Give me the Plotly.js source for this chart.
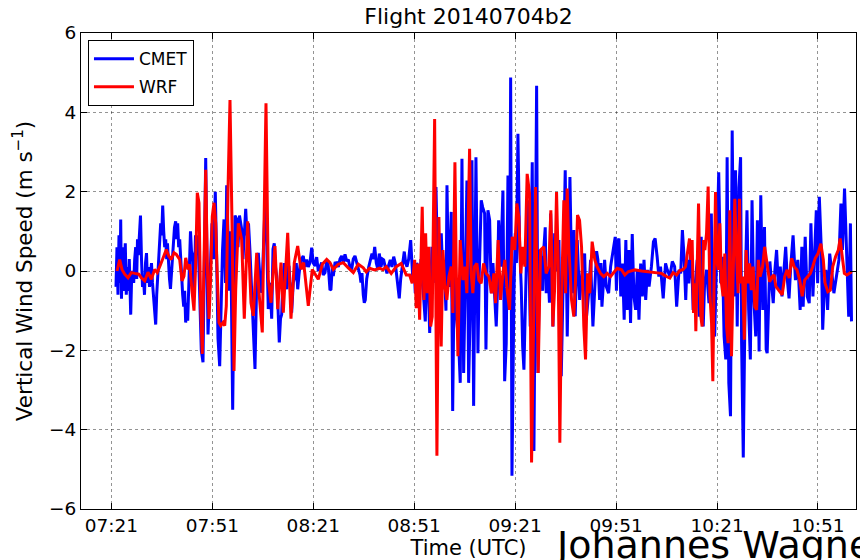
<!DOCTYPE html>
<html>
<head>
<meta charset="utf-8">
<script src="https://cdn.plot.ly/plotly-3.0.1.min.js"></script>
<style>
  html, body { margin: 0; padding: 0; background: #fff; }
  #chart { width: 860px; height: 560px; }
</style>
</head>
<body>
<div id="chart"></div>
<script>
// Flight 20140704b2: vertical wind speed measured by the CMET balloon vs. WRF model.
// Time is given in minutes after 07:00 UTC.

const cmetTime = [
  22.37,22.66,22.96,23.26,23.56,23.77,24.0,24.3,24.6,24.9,25.13,25.43,25.73,26.02,26.32,26.74,27.04,27.33,27.63,27.93,
  28.22,28.52,28.76,29.0,29.3,29.65,29.95,30.25,30.55,30.84,31.14,31.44,31.73,32.03,32.33,32.62,32.92,33.22,33.51,33.81,
  34.17,34.47,34.76,35.06,35.36,35.65,35.95,36.25,36.55,36.84,37.14,37.44,37.67,37.97,38.27,38.56,38.86,39.16,39.45,39.75,
  40.11,40.41,40.7,41.0,41.3,41.59,41.89,42.19,42.49,42.78,43.08,43.38,43.68,43.97,44.27,44.51,44.81,45.1,45.4,45.7,
  46.0,46.29,46.74,47.18,47.72,48.23,48.61,49.03,49.42,49.72,50.16,50.52,50.91,51.35,51.88,52.24,52.69,53.19,53.58,54.02,
  54.47,54.91,55.27,55.66,56.1,56.46,56.76,57.05,57.44,57.74,58.24,58.63,59.07,59.73,60.11,60.56,60.92,61.3,61.75,62.19,
  62.64,63.18,63.68,64.13,64.66,65.17,65.67,66.21,66.86,67.25,67.63,68.14,68.64,69.03,69.41,69.77,70.13,70.51,70.9,71.26,
  71.61,72.0,72.38,72.74,73.1,73.48,73.78,74.16,74.58,75.05,75.57,75.95,76.37,76.76,77.05,77.5,78.03,78.54,79.04,79.52,
  80.02,80.53,81.0,81.51,82.01,82.49,82.99,83.5,83.97,84.48,84.99,85.46,85.97,86.26,86.65,86.95,87.45,87.96,88.44,88.94,
  89.45,89.92,90.43,90.93,91.41,91.91,92.41,92.89,93.4,93.9,94.38,94.88,95.17,95.47,95.86,96.16,96.46,96.88,97.47,97.95,
  98.45,98.84,99.26,99.73,100.24,100.62,101.13,101.57,101.93,102.4,102.91,103.41,103.89,104.39,104.9,105.37,105.88,106.26,106.56,106.98,
  107.36,107.75,108.05,108.47,108.85,109.36,109.95,110.55,110.93,111.32,111.74,112.12,112.57,113.01,113.31,113.82,114.29,114.59,114.89,115.24,
  115.6,115.99,116.28,116.67,117.08,117.47,117.85,118.27,118.66,119.04,119.55,120.05,120.44,120.74,121.12,121.42,121.72,122.01,122.43,122.81,
  123.02,123.41,123.7,124.21,124.68,124.98,125.19,125.69,126.17,126.67,127.18,127.65,128.16,128.66,129.35,129.94,130.33,130.92,131.34,131.93,
  132.32,132.91,133.42,133.89,134.4,134.9,135.38,135.74,136.09,136.69,137.37,137.88,138.35,138.86,139.36,139.66,140.05,140.64,141.03,141.38,
  141.83,142.33,142.81,143.23,143.61,144.12,144.8,145.48,146.08,146.58,147.38,147.77,148.28,148.75,149.17,149.56,149.94,150.24,150.75,151.19,
  151.55,151.94,152.23,152.74,153.12,153.51,154.01,154.31,154.7,155.2,155.88,156.48,156.89,157.28,157.87,158.47,158.85,159.45,160.16,160.84,
  161.65,162.12,162.84,163.43,164.11,164.8,165.21,165.6,166.1,166.49,166.79,167.23,167.59,168.07,168.78,169.37,170.06,170.74,171.1,171.34,
  171.84,172.4,172.9,173.4,173.9,174.3,174.8,175.3,175.8,176.3,176.8,177.3,177.8,178.3,178.8,179.3,179.8,180.3,180.8,181.5,
  182.1,182.6,183.2,183.7,184.2,185.0,185.7,186.2,187.0,187.7,188.4,189.0,189.7,190.2,190.7,191.2,191.7,192.1,192.6,193.3,
  193.9,194.6,195.1,195.7,196.3,196.9,197.3,197.9,198.6,199.3,199.7,200.3,200.9,201.5,202.1,202.6,203.1,203.6,204.0,204.5,
  205.0,205.5,206.0,206.5,207.0,207.5,208.0,208.3,208.8,209.4,209.9,210.4,210.9,211.4,211.9,212.5,213.0,213.5,214.0,214.6,
  215.1,215.6,215.9,216.7,217.2,217.7,218.2,218.7,219.3,219.8,220.3,220.8,221.4,221.9,222.4,222.9,223.6,224.3,225.0,225.7,
  226.2,226.6,227.2,227.8,228.4,228.9,229.5,230.0,230.5,230.9,231.4,232.0,232.4,232.8,233.35,233.86,234.48,235.14,235.73,236.48,
  237.22,237.82,238.26,238.89,239.3,239.6,240.13,240.64,240.96
];
const cmetW = [
  -0.4,0.6,-0.6,0.9,-0.3,1.3,-0.7,0.6,-0.5,0.2,0.7,-0.6,0.1,-0.5,0.3,-1.1,-0.1,0.0,-0.3,0.3,
  0.6,-0.2,0.8,0.4,0.9,1.4,0.3,-0.4,-0.2,-0.6,0.2,0.45,-0.3,0.1,-0.4,0.0,0.2,-0.3,-0.6,-0.9,
  -1.35,-0.6,-0.2,0.2,0.7,1.2,0.9,1.65,1.0,0.6,0.8,0.3,0.7,0.1,-0.2,-0.45,-0.1,0.5,0.7,1.1,
  1.25,0.8,1.2,0.6,0.8,0.2,-0.3,-0.6,-0.9,-0.5,-1.3,-0.8,-1.25,-0.4,0.6,1.0,0.5,0.4,-0.6,-0.2,
  0.9,0.4,0.9,-0.3,-2.0,-2.3,0.5,2.85,0.2,-1.6,-0.5,0.4,1.2,0.3,2.0,0.5,-1.7,-2.4,-0.8,0.5,
  1.3,-0.3,2.16,0.5,-0.5,1.0,-1.5,-3.5,-0.5,1.4,1.3,0.6,1.4,1.05,0.3,1.0,1.57,0.9,1.2,0.5,
  -0.3,-1.3,-2.47,-0.5,0.46,-0.2,-0.55,0.6,2.13,0.4,-0.96,-0.3,-1.2,0.55,0.7,0.1,-0.13,-0.9,-1.8,-1.2,
  -1.1,-0.2,0.2,-0.1,-0.46,0.1,0.13,-0.4,-1.05,-0.3,-0.13,0.2,-0.46,-0.1,0.13,0.3,0.38,0.1,0.29,0.1,
  0.21,0.59,0.2,0.13,0.35,0.0,0.1,0.21,-0.1,-0.04,0.25,0.13,-0.48,-0.46,0.1,-0.13,0.2,0.21,0.1,0.3,
  0.38,0.2,0.42,0.25,0.29,0.1,0.04,0.3,0.38,0.2,0.04,-0.1,-0.29,-0.05,-0.6,-0.8,-0.73,-0.2,0.1,0.3,
  0.44,0.3,0.61,0.2,0.03,0.44,0.1,0.3,0.28,0.1,-0.06,0.15,0.28,0.1,0.36,0.2,-0.14,-0.5,-0.69,-0.2,
  0.11,0.3,0.49,0.2,0.11,0.3,0.78,-0.14,0.2,-0.56,0.2,0.11,-0.5,0.3,-0.14,-0.6,-1.27,-0.3,0.36,-0.5,
  -1.56,-0.2,0.61,-0.3,0.8,2.12,0.5,0.11,-0.8,0.95,-0.2,-0.14,-1.0,2.16,0.2,-0.4,0.6,1.49,-3.53,-0.5,
  0.95,-1.0,-1.4,-1.82,-2.82,0.3,2.83,-2.57,-0.56,2.28,-2.82,-1.0,2.79,-3.4,2.87,-2.07,-0.06,1.78,1.61,1.45,
  -1.98,1.53,1.28,-0.56,0.2,-0.56,-1.4,-0.5,1.28,0.11,2.03,-2.78,-1.82,2.41,-0.56,4.88,-5.16,-0.56,0.95,0.2,
  3.46,0.61,-0.4,-1.9,-2.49,-0.56,1.78,-1.4,2.74,-4.54,4.67,-2.57,0.53,0.28,-0.5,0.61,1.1,-0.56,0.03,-0.8,
  1.45,0.3,-1.4,0.95,0.0,0.28,0.78,-1.2,-2.65,-0.56,2.54,-1.65,0.61,2.37,-0.56,1.03,-1.14,0.78,-0.73,-0.06,
  0.44,-1.23,-0.56,0.28,-1.4,-0.06,0.5,0.28,-0.73,0.2,-0.9,-0.3,0.28,-0.39,-0.56,0.11,0.44,0.86,-0.5,0.69,
  0.82,-0.64,0.19,-1.23,0.78,-0.98,0.53,-1.31,0.93,-0.64,-0.98,0.03,-1.23,0.19,-0.64,0.28,-0.73,0.03,-0.39,0.11,
  0.74,0.82,0.36,-0.14,0.11,-0.69,0.19,0.03,-0.14,0.24,0.11,-0.9,0.03,-0.06,1.03,0.36,-0.73,0.28,-0.31,0.69,
  -0.98,-0.31,0.28,-1.15,0.86,-1.4,-0.31,0.03,-0.81,1.45,-1.31,-1.65,0.86,2.49,-0.31,0.36,-1.65,-2.23,2.87,-2.82,
  -3.66,3.54,-0.64,2.54,-1.4,2.1,2.87,-1.8,-4.7,-0.31,1.53,-0.98,-2.23,1.78,-0.64,-1.65,1.28,-2.03,1.91,-0.98,
  1.11,-1.98,-2.07,0.24,-0.31,-0.81,0.03,0.53,-0.48,0.11,-0.64,0.03,0.61,-0.23,-0.69,0.11,0.9,-0.23,0.28,-0.98,
  0.61,-0.9,0.86,-0.64,-0.81,1.2,-0.64,0.44,1.53,-0.31,1.87,0.53,-1.48,-0.64,0.03,-0.98,0.44,-0.06,-0.56,-0.14,
  0.28,1.7,0.53,2.08,0.78,-0.14,-1.15,1.2,-1.27
];

const wrfTime = [
  22.67,23.47,24.15,24.96,25.94,26.92,27.93,29.12,29.89,30.9,31.88,32.86,33.87,34.64,35.65,36.34,37.32,38.03,38.8,39.61,
  40.29,41.3,41.99,42.58,43.09,43.77,44.27,44.96,45.55,46.06,46.53,47.04,47.54,48.02,48.52,49.03,49.5,50.01,50.51,50.99,
  51.5,52.0,52.48,52.98,53.49,54.17,54.68,55.15,55.66,56.25,56.85,57.44,57.95,58.72,59.73,60.5,61.51,62.49,63.18,64.19,
  64.87,65.85,66.95,67.63,68.44,69.62,70.43,71.41,72.09,73.4,74.38,75.36,76.37,77.35,78.15,79.52,80.71,81.51,82.49,83.68,
  84.99,85.97,86.95,88.44,89.92,91.41,92.9,94.38,95.87,96.73,97.74,99.23,100.71,101.7,102.68,104.17,105.66,107.14,108.63,109.64,
  110.41,111.13,111.6,112.11,112.61,113.38,113.89,114.39,114.87,115.37,115.88,116.35,117.07,117.75,118.34,119.02,119.53,120.12,120.71,121.31,
  121.99,122.5,123.1,123.48,123.99,124.67,125.47,126.15,126.65,127.46,127.93,128.43,128.94,129.62,130.22,130.9,131.61,132.38,133.19,133.99,
  134.67,135.18,135.95,136.66,137.34,137.94,138.62,139.33,140.11,140.91,141.5,142.1,142.69,143.29,143.88,144.57,145.28,145.88,146.56,147.07,
  147.84,148.55,149.53,150.21,151.01,151.61,152.2,152.71,153.3,153.78,154.28,154.79,155.47,155.98,156.45,156.96,157.76,158.44,158.95,159.54,
  160.14,160.73,161.41,161.92,162.51,163.2,163.88,164.68,165.36,166.37,167.35,168.33,169.34,170.33,171.31,172.62,173.6,174.58,176.57,178.56,
  180.52,182.51,184.5,185.99,186.97,187.95,188.96,189.94,190.92,191.63,192.23,192.82,193.21,193.6,194.01,194.4,194.7,195.2,195.5,195.89,
  196.19,196.57,196.99,197.38,197.88,198.36,198.86,199.37,199.75,200.14,200.55,200.94,201.33,201.83,202.33,202.81,203.31,203.82,204.29,204.8,
  205.3,205.78,206.28,206.79,207.26,207.68,208.06,208.6,209.1,209.64,210.14,210.68,211.18,211.72,212.22,212.76,213.26,213.8,214.54,215.16,
  215.88,216.62,217.45,217.96,218.49,219.53,220.37,221.11,221.82,222.45,223.19,223.91,224.74,225.57,226.31,227.06,227.89,228.72,229.44,230.18,
  231.01,231.85,232.59,233.1,233.93,234.67,235.39,236.22,237.05,237.59,238.1,238.84,239.59,240.42,241.04
];
const wrfW = [
  0.0,0.29,0.04,-0.08,-0.17,-0.04,-0.06,-0.08,-0.17,-0.25,-0.03,-0.21,0.04,-0.04,0.17,0.33,0.54,0.38,0.29,0.46,
  0.42,0.29,-0.25,-0.13,0.33,0.04,0.17,-0.5,-1.0,0.21,1.97,1.72,-0.88,-2.09,0.38,2.55,0.21,-1.21,-0.13,1.38,
  1.72,1.21,-0.13,-1.3,-1.38,-1.3,-1.38,-0.88,2.05,4.31,1.2,-2.52,-0.46,1.2,0.79,-1.2,1.25,-0.8,-1.13,0.46,
  -0.54,-1.55,4.23,-0.21,-0.8,0.63,-0.96,0.21,-1.05,0.96,-1.2,0.21,0.63,0.04,0.21,-0.88,0.04,-0.08,-0.21,0.17,
  0.29,0.21,0.04,0.17,0.21,0.08,-0.04,0.17,0.08,-0.02,0.07,0.03,0.07,0.03,0.11,-0.06,0.11,0.19,-0.1,-0.1,
  -0.31,0.28,-0.94,0.19,-1.23,1.62,-0.73,0.95,-0.56,0.61,-1.4,-1.15,3.83,-4.66,1.36,-1.9,0.53,-0.39,-0.73,-0.14,
  0.11,-1.06,2.74,0.11,-2.15,0.78,-0.23,0.11,-0.56,3.08,-0.06,-0.56,0.11,0.19,-0.23,-0.31,0.19,-0.06,-0.14,-0.56,
  -0.06,-0.81,0.78,-0.73,-0.06,0.28,-0.48,-0.98,0.86,0.53,1.7,1.36,-0.06,0.61,0.11,2.45,1.95,-4.83,-0.06,2.12,
  -2.57,0.53,0.61,-0.06,0.11,1.53,-1.4,-0.48,1.99,0.28,-4.33,-0.73,1.78,-0.56,2.08,0.61,-0.73,-1.15,-0.23,1.41,
  1.28,0.61,-1.4,-2.23,-0.06,-0.56,0.74,0.28,0.11,-0.06,-0.14,-0.06,-0.14,-0.02,0.07,0.03,-0.1,-0.02,0.03,0.0,
  -0.02,-0.03,-0.06,-0.14,-0.18,-0.04,-0.1,0.01,0.04,0.11,0.53,0.82,0.28,0.78,-1.06,-0.31,-1.52,0.86,1.7,-0.14,
  -1.15,-1.4,0.78,0.53,0.95,2.13,-0.56,-1.31,-2.78,-0.14,1.99,0.28,0.03,1.2,-0.31,-0.64,0.44,-1.4,-1.82,1.53,
  -2.15,-0.14,1.82,0.44,-0.56,1.82,-0.31,-0.14,-1.73,0.53,-0.31,0.19,-0.48,0.11,-0.9,-0.98,0.28,-0.14,0.11,0.61,
  0.11,-0.27,-0.14,-0.1,-0.39,-0.52,-0.6,-0.14,0.03,-0.18,0.32,0.11,0.03,-0.23,-0.64,-0.23,-0.14,-0.06,0.11,0.32,
  0.44,0.69,0.28,-0.31,-0.52,-0.48,0.11,0.36,0.53,0.82,0.44,-0.06,-0.1,-0.06,-0.02
];

const tickMinutes = [21, 51, 81, 111, 141, 171, 201, 231];
const tickLabels = ['07:21', '07:51', '08:21', '08:51', '09:21', '09:51', '10:21', '10:51'];
const yTicks = [-6, -4, -2, 0, 2, 4, 6];

const FONT = 'DejaVu Sans, Bitstream Vera Sans, sans-serif';

const traces = [
  {
    x: cmetTime, y: cmetW, name: 'CMET', type: 'scatter', mode: 'lines',
    line: { color: '#0000ff', width: 3 }, legendgroup: 'a'
  },
  {
    x: wrfTime, y: wrfW, name: 'WRF', type: 'scatter', mode: 'lines',
    line: { color: '#ff0000', width: 3 }, legendgroup: 'b'
  }
];

const axisCommon = {
  showline: true, linecolor: '#000', linewidth: 1, mirror: 'ticks',
  ticks: 'inside', ticklen: 6, tickwidth: 1, tickcolor: '#000',
  showgrid: true, gridcolor: 'rgba(0,0,0,0.42)', gridwidth: 1, griddash: 'dot',
  zeroline: false, tickfont: { family: FONT, size: 18.5, color: '#000' }
};

const layout = {
  width: 860, height: 560,
  margin: { l: 81, r: 4, t: 33, b: 51 },
  paper_bgcolor: '#fff', plot_bgcolor: '#fff',
  font: { family: FONT, color: '#000' },
  title: {
    text: 'Flight 20140704b2', font: { family: FONT, size: 22, color: '#000' },
    x: 0.5, xref: 'paper', xanchor: 'center', y: 1, yref: 'container', yanchor: 'top', pad: { t: 9 }
  },
  xaxis: Object.assign({}, axisCommon, {
    range: [11.97, 242.3], tickmode: 'array', tickvals: tickMinutes, ticktext: tickLabels,
    title: { text: 'Time (UTC)', font: { family: FONT, size: 21, color: '#000' }, standoff: 3 },
    automargin: false
  }),
  yaxis: Object.assign({}, axisCommon, {
    range: [-6, 6], tickmode: 'array', tickvals: yTicks,
    title: { text: 'Vertical Wind Speed (m s<sup>\u22121</sup>)', font: { family: FONT, size: 21.5, color: '#000' }, standoff: 10 },
    automargin: false
  }),
  showlegend: true,
  legend: {
    x: 0.009, y: 0.985, xanchor: 'left', yanchor: 'top',
    bgcolor: '#fff', bordercolor: '#000', borderwidth: 1,
    font: { family: FONT, size: 17, color: '#000' },
    traceorder: 'grouped', tracegroupgap: 3, itemwidth: 40
  },
  annotations: [
    {
      text: 'Johannes Wagner', xref: 'paper', yref: 'paper', x: 0.609, y: -0.076,
      xanchor: 'left', yanchor: 'middle', showarrow: false,
      font: { family: FONT, size: 38, color: '#000' }
    }
  ]
};

Plotly.newPlot('chart', traces, layout, { displayModeBar: false, staticPlot: true });
</script>
</body>
</html>
